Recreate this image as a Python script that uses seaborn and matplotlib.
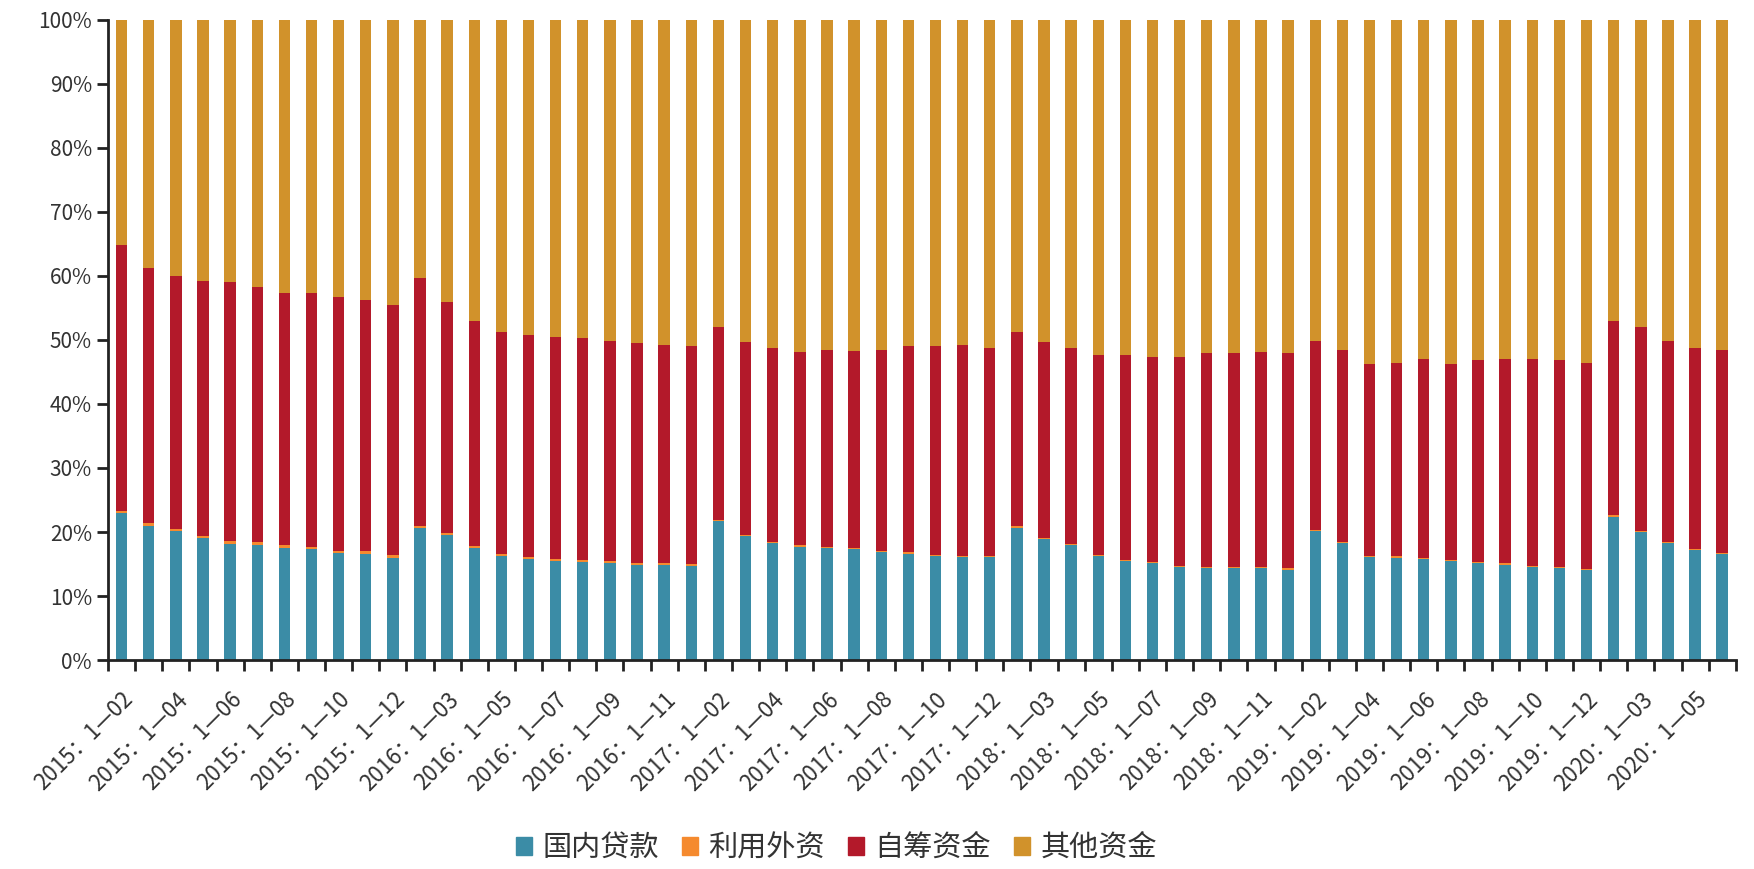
import numpy as np
import pandas as pd
import matplotlib
matplotlib.use("Agg")
import matplotlib.pyplot as plt
import seaborn as sns
from matplotlib.ticker import FixedLocator

# Data: shares (%) of funding sources, cumulative Jan-to-month
years = [2015, 2016, 2017, 2018, 2019, 2020]
months_per_year = {2015: range(2, 13), 2016: range(2, 13), 2017: range(2, 13),
                   2018: range(2, 13), 2019: range(2, 13), 2020: range(2, 7)}
periods = [f"{y}：1—{m:02d}" for y in years for m in months_per_year[y]]

domestic_loans = [22.9, 21.0, 20.1, 19.0, 18.2, 18.0, 17.5, 17.3, 16.7, 16.6, 16.0,
                  20.7, 19.5, 17.5, 16.2, 15.8, 15.5, 15.3, 15.1, 14.9, 14.9, 14.7,
                  21.7, 19.3, 18.3, 17.7, 17.5, 17.3, 16.9, 16.6, 16.2, 16.1, 16.1,
                  20.7, 18.9, 17.9, 16.2, 15.5, 15.1, 14.5, 14.4, 14.4, 14.4, 14.1,
                  20.1, 18.3, 16.1, 16.0, 15.8, 15.4, 15.1, 14.9, 14.5, 14.4, 14.0,
                  22.4, 20.0, 18.3, 17.2, 16.5]
foreign_capital = [0.4] * 11 + [0.3] * 11 + [0.2] * 38
self_raised = [41.5, 39.9, 39.5, 39.8, 40.4, 39.9, 39.5, 39.7, 39.6, 39.2, 39.1,
               38.7, 36.2, 35.1, 34.8, 34.7, 34.6, 34.7, 34.5, 34.3, 34.0, 34.0,
               30.1, 30.2, 30.2, 30.3, 30.8, 30.8, 31.4, 32.2, 32.6, 32.9, 32.5,
               30.4, 30.6, 30.6, 31.2, 31.9, 32.0, 32.6, 33.4, 33.4, 33.5, 33.7,
               29.6, 30.0, 30.0, 30.2, 31.1, 30.7, 31.5, 32.0, 32.4, 32.3, 32.2,
               30.3, 31.8, 31.4, 31.4, 31.8]

series_names = ["国内贷款", "利用外资", "自筹资金", "其他资金"]
colors = ["#3B8CA6", "#F58A2E", "#B3192A", "#D1922B"]

df = pd.DataFrame({"period": periods,
                   "国内贷款": domestic_loans,
                   "利用外资": foreign_capital,
                   "自筹资金": self_raised})
df["其他资金"] = 100 - df[["国内贷款", "利用外资", "自筹资金"]].sum(axis=1)

sns.set_style("white")
plt.rcParams['font.family'] = ['Noto Sans CJK SC', 'DejaVu Sans']

fig = plt.figure(figsize=(17.54, 8.69), dpi=100)
ax = fig.add_axes([0.0616, 0.2405, 0.928, 0.7365])

bottom = np.zeros(len(df))
for name, c in zip(series_names, colors):
    sns.barplot(x=df["period"], y=df[name], bottom=bottom, color=c, width=0.42,
                ax=ax, label=name, saturation=1, linewidth=0, legend=False)
    bottom = bottom + df[name].values

ax.set_xlim(-0.5, len(df) - 0.5)
ax.set_ylim(0, 100)
ax.set_xlabel("")
ax.set_ylabel("")

# labels every other bar, ticks at bar boundaries
idx = list(range(0, len(df), 2))
ax.set_xticks(idx)
ax.set_xticklabels([periods[i] for i in idx], rotation=45, ha='right',
                   rotation_mode='anchor', fontsize=16, color='#333333')
ax.xaxis.set_minor_locator(FixedLocator(np.arange(-0.5, len(df), 1)))
ax.tick_params(axis='x', which='major', length=0, pad=20)
ax.tick_params(axis='x', which='minor', length=8, width=2, color='#222222', bottom=True)

ax.set_yticks(range(0, 101, 10))
ax.set_yticklabels([f"{v}%" for v in range(0, 101, 10)], fontsize=15, color='#333333')
ax.tick_params(axis='y', length=8, width=2, color='#222222', left=True)

sns.despine(ax=ax)
for s in ["left", "bottom"]:
    ax.spines[s].set_linewidth(2)
    ax.spines[s].set_color('#222222')

if ax.get_legend() is not None:
    ax.get_legend().remove()

handles = [plt.Rectangle((0, 0), 1, 1, color=c) for c in colors]
fig.legend(handles, series_names, loc='center', bbox_to_anchor=(0.477, 0.024), ncol=4,
           frameon=False, fontsize=21, handlelength=0.55, handleheight=0.55,
           handletextpad=0.35, columnspacing=0.8, labelcolor='#333333')

fig.savefig("out.png", dpi=100)
